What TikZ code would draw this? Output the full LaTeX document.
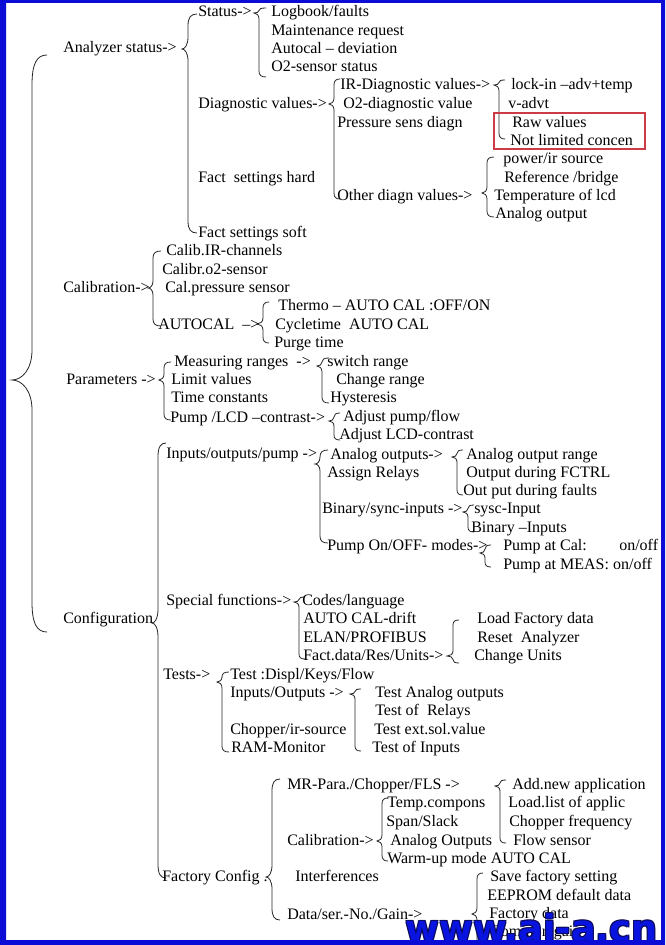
\documentclass[tikz,border=0pt]{standalone}
\usepackage{fontspec}
\setmainfont{Liberation Serif}
\newfontfamily\wmfont{DejaVu Sans}
\definecolor{frameblue}{RGB}{12,12,215}
\definecolor{wmblue}{RGB}{10,20,225}
\definecolor{wmnavy}{RGB}{10,10,90}
\definecolor{boxred}{RGB}{205,60,70}
\tikzset{
  t/.style={anchor=base west, inner sep=0pt, font=\fontsize{12}{14}\selectfont},
  brc/.style={draw=black!85, line width=0.6pt},
  wmark/.style={anchor=base west, inner sep=0pt, font=\wmfont\bfseries\fontsize{27.5}{28}\selectfont}
}
% brace: x, top, cusp, bottom, tip depth, curl width, radius
\newcommand\wbr[7]{%
 \pgfmathsetmacro\wra{min(#7,(#3-#2)/2)}%
 \pgfmathsetmacro\wrb{min(#7,(#4-#3)/2)}%
 \draw[brc] (#1+#6,#2) .. controls (#1+0.3*#6,#2) and (#1,#2+0.3*\wra) .. (#1,#2+\wra)
   -- (#1,#3-\wra) .. controls (#1,#3-0.35*\wra) and (#1-0.5*#5,#3) .. (#1-#5,#3)
   .. controls (#1-0.5*#5,#3) and (#1,#3+0.35*\wrb) .. (#1,#3+\wrb)
   -- (#1,#4-\wrb) .. controls (#1,#4-0.3*\wrb) and (#1+0.3*#6,#4) .. (#1+#6,#4);}
\newcommand\tx[4]{\node[t] (#1) at (#2,#3+4.5) {#4};}
\begin{document}
\begin{tikzpicture}[x=0.75pt,y=-0.75pt]
\useasboundingbox (0,0) rectangle (665,945);
\fill[white] (0,0) rectangle (665,945);
% ---------- braces
\wbr{32}{55}{380}{632}{20}{15}{30}
\wbr{188}{14}{49}{233}{6}{9}{12}
\wbr{259}{8}{13}{77}{5}{7}{6}
\wbr{334}{79}{104}{199}{5}{6}{6}
\wbr{499}{80}{85}{139}{5}{6}{6}
\wbr{487}{157}{193}{217}{5}{7}{6}
\wbr{153}{251}{288}{326}{5}{8}{7}
\wbr{263}{302}{324}{343}{6}{6}{6}
\wbr{164}{362}{380}{420}{5}{7}{6}
\wbr{322}{358}{366}{403}{5}{7}{6}
\wbr{334}{413}{421}{440}{5}{6}{5}
\wbr{158}{443}{623}{878}{6}{8}{14}
\wbr{320}{450}{464}{543}{5}{8}{7}
\wbr{457}{450}{457}{495}{5}{6}{5}
\wbr{468}{505}{512}{532}{5}{6}{5}
\wbr{485}{545}{553}{567}{5}{6}{5}
\wbr{299}{597}{602}{659}{5}{6}{5}
\wbr{453}{620}{656}{663}{6}{6}{5}
\wbr{222}{672}{682}{752}{5}{7}{6}
\wbr{355}{689}{694}{751}{5}{6}{5}
\wbr{272}{779}{877}{920}{6}{8}{12}
\wbr{500}{780}{786}{843}{5}{6}{5}
\wbr{382}{798}{841}{861}{5}{6}{6}
\wbr{477}{873}{914}{950}{5}{6}{6}
% ---------- red box
\draw[boxred, line width=0.8pt] (494,113) rectangle (645,149);
% ---------- texts
\tx{as}{63}{48}{Analyzer status->}
\tx{st}{198}{12}{Status->}
\tx{lb}{271}{12}{Logbook/faults}
\tx{mr}{271}{31}{Maintenance request}
\tx{ad}{271}{49}{Autocal – deviation}
\tx{o2s}{271}{67}{O2-sensor status}
\tx{dv}{198}{104}{Diagnostic values->}
\tx{ird}{340}{85}{IR-Diagnostic values->}
\tx{o2d}{343}{104}{O2-diagnostic value}
\tx{psd}{337}{123}{Pressure sens diagn}
\tx{odv}{337}{196}{Other diagn values->}
\tx{lia}{511}{85}{lock-in –adv+temp}
\tx{vad}{508}{104}{v-advt}
\tx{raw}{512}{123}{Raw values}
\tx{nlc}{510}{141}{Not limited concen}
\tx{pir}{503}{159}{power/ir source}
\tx{rb}{504}{178}{Reference /bridge}
\tx{tol}{494}{196}{Temperature of lcd}
\tx{ao}{495}{214}{Analog output}
\tx{fsh}{198}{178}{Fact\ \ settings hard}
\tx{fss}{198}{233}{Fact settings soft}
\tx{cal}{63}{288}{Calibration->}
\tx{cir}{166}{251}{Calib.IR-channels}
\tx{co2}{162}{270}{Calibr.o2-sensor}
\tx{cps}{165}{288}{Cal.pressure sensor}
\tx{acl}{158}{325}{AUTOCAL\ \ –>}
\tx{thm}{278}{306}{Thermo – AUTO CAL :OFF/ON}
\tx{cyc}{275}{325}{Cycletime\ \ AUTO CAL}
\tx{pur}{274}{343}{Purge time}
\tx{par}{66}{380}{Parameters ->}
\tx{mrg}{174}{362}{Measuring ranges\ \ ->}
\tx{lim}{171}{380}{Limit values}
\tx{tco}{171}{398}{Time constants}
\tx{plc}{170}{418}{Pump /LCD –contrast->}
\tx{swr}{327}{362}{switch range}
\tx{chr}{336}{380}{Change range}
\tx{hys}{330}{398}{Hysteresis}
\tx{apf}{343}{417}{Adjust pump/flow}
\tx{alc}{339}{435}{Adjust LCD-contrast}
\tx{cfg}{63}{619}{Configuration}
\tx{iop}{166}{454}{Inputs/outputs/pump ->}
\tx{aos}{330}{455}{Analog outputs->}
\tx{asr}{327}{473}{Assign Relays}
\tx{bsi}{322}{509}{Binary/sync-inputs ->}
\tx{pom}{327}{546}{Pump On/OFF- modes->}
\tx{aor}{466}{455}{Analog output range}
\tx{odf}{466}{473}{Output during FCTRL}
\tx{opf}{463}{491}{Out put during faults}
\tx{ssi}{474}{509}{sysc-Input}
\tx{bin}{471}{528}{Binary –Inputs}
\tx{pac}{503}{546}{Pump at Cal:}
\tx{pacv}{619}{546}{on/off}
\tx{pam}{503}{565}{Pump at MEAS: on/off}
\tx{spf}{166}{601}{Special functions->}
\tx{cdl}{302}{601}{Codes/language}
\tx{acd}{303}{619}{AUTO CAL-drift}
\tx{elp}{303}{638}{ELAN/PROFIBUS}
\tx{fdr}{303}{656}{Fact.data/Res/Units->}
\tx{lfd}{477}{619}{Load Factory data}
\tx{ran}{477}{638}{Reset\ \ Analyzer}
\tx{chu}{474}{656}{Change Units}
\tx{tst}{163}{675}{Tests->}
\tx{tdk}{230}{675}{Test :Displ/Keys/Flow}
\tx{tio}{230}{693}{Inputs/Outputs ->}
\tx{cis}{230}{730}{Chopper/ir-source}
\tx{ram}{231}{748}{RAM-Monitor}
\tx{tao}{375}{693}{Test Analog outputs}
\tx{tor}{375}{711}{Test of\ \ Relays}
\tx{tes}{374}{730}{Test ext.sol.value}
\tx{toi}{372}{748}{Test of Inputs}
\tx{fcf}{162}{877}{Factory Config .}
\tx{mrp}{287}{785}{MR-Para./Chopper/FLS ->}
\tx{fca}{287}{841}{Calibration->}
\tx{itf}{295}{877}{Interferences}
\tx{dsg}{287}{915}{Data/ser.-No./Gain->}
\tx{tcp}{387}{803}{Temp.compons}
\tx{sps}{386}{822}{Span/Slack}
\tx{aou}{390}{841}{Analog Outputs}
\tx{wum}{387}{859}{Warm-up mode AUTO CAL}
\tx{ana}{512}{785}{Add.new application}
\tx{lla}{508}{803}{Load.list of applic}
\tx{chf}{509}{822}{Chopper frequency}
\tx{fls}{513}{841}{Flow sensor}
\tx{sfs}{490}{877}{Save factory setting}
\tx{eep}{487}{896}{EEPROM default data}
\tx{fdt}{489}{914}{Factory data}
\tx{cgn}{490}{932}{Common gain}
% ---------- watermark (navy outline under blue letters)
\node[wmark, text=wmnavy] (wma) at (404,940) {www.ai-a.cn};
\node[wmark, text=wmnavy] (wmb) at (406,940) {www.ai-a.cn};
\node[wmark, text=wmnavy] (wmc) at (404,942) {www.ai-a.cn};
\node[wmark, text=wmnavy] (wmd) at (406,942) {www.ai-a.cn};
\node[wmark, text=wmblue] (wm) at (405,941) {www.ai-a.cn};
% ---------- frame
\fill[frameblue, even odd rule] (0,0) rectangle (665,945) (6,3) rectangle (661,940);
\end{tikzpicture}
\end{document}
